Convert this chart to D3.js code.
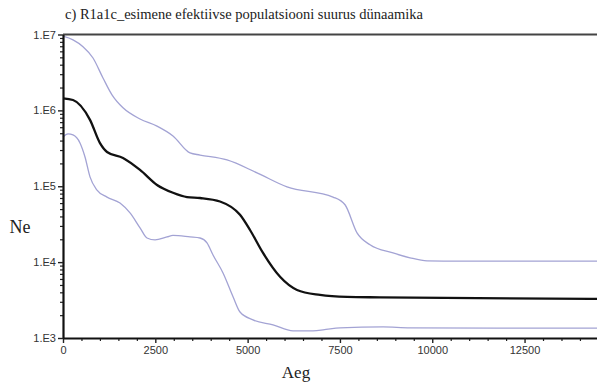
<!DOCTYPE html>
<html><head><meta charset="utf-8">
<script src="https://cdn.jsdelivr.net/npm/d3@7"></script>
<style>body{margin:0;background:#fff}svg{display:block}</style>
</head><body>
<script>
const titleText = "c) R1a1c_esimene efektiivse populatsiooni suurus  dünaamika";
const xLabel = "Aeg";
const yLabel = "Ne";
const xTicks = [0, 2500, 5000, 7500, 10000, 12500];
const yTicks = [1e3, 1e4, 1e5, 1e6, 1e7];
const yTickLabels = ["1.E3", "1.E4", "1.E5", "1.E6", "1.E7"];

// median Ne
const medianYears = [0, 271, 731, 1002, 1192, 1625, 2086, 2546, 2979, 3359, 3711, 4252, 4794, 5065, 5417, 5878, 6338, 6961, 7692, 8586, 14500];
const medianNe = [1.44e6, 1.37e6, 7.5e5, 3.7e5, 2.83e5, 2.36e5, 1.64e5, 1.04e5, 8.2e4, 7.2e4, 7.0e4, 6.3e4, 4.2e4, 2.65e4, 1.32e4, 6.4e3, 4.3e3, 3.7e3, 3.48e3, 3.43e3, 3.27e3];

// upper bound
const upperYears = [0, 271, 542, 813, 1083, 1327, 1625, 2086, 2546, 2979, 3440, 3711, 4442, 5255, 6067, 7313, 7638, 7963, 8315, 8938, 9399, 9859, 10753, 14500];
const upperNe = [9.5e6, 8.5e6, 6.9e6, 4.9e6, 2.67e6, 1.6e6, 1.08e6, 7.7e5, 6.2e5, 4.6e5, 2.75e5, 2.58e5, 2.22e5, 1.5e5, 9.8e4, 7.2e4, 5.7e4, 2.43e4, 1.69e4, 1.32e4, 1.14e4, 1.04e4, 1.03e4, 1.03e4];

// lower bound
const lowerYears = [0, 135, 271, 460, 596, 731, 921, 1192, 1544, 1815, 2086, 2275, 2492, 2817, 2979, 3440, 3711, 3900, 4063, 4334, 4605, 4794, 5146, 5688, 6230, 6609, 7042, 7503, 8667, 9399, 14500];
const lowerNe = [4.47e5, 4.89e5, 4.74e5, 3.72e5, 2.43e5, 1.33e5, 8.9e4, 7.2e4, 6.0e4, 4.45e4, 2.83e4, 2.08e4, 1.96e4, 2.15e4, 2.25e4, 2.15e4, 2.08e4, 1.79e4, 1.24e4, 7.2e3, 3.5e3, 2.2e3, 1.73e3, 1.49e3, 1.24e3, 1.24e3, 1.28e3, 1.36e3, 1.4e3, 1.36e3, 1.35e3];

const W = 597, H = 387;
const svg = d3.select("body").append("svg").attr("width", W).attr("height", H);

const x = d3.scaleLinear().domain([0, 14500]).range([63, 598.4]);
const y = d3.scaleLog().domain([1e3, 1e7]).range([338, 34.5]);

// title
svg.append("text").attr("x", 65).attr("y", 19)
  .attr("font-family", "'Liberation Serif', serif").attr("font-size", 14.5)
  .attr("fill", "#222").text(titleText);

// top frame line
svg.append("line").attr("x1", 63).attr("x2", W).attr("y1", y(1e7)).attr("y2", y(1e7))
  .attr("stroke", "#444").attr("stroke-width", 2.2);

const mk = (xs, vs) => xs.map((d, i) => [d, vs[i]]);
const line = d3.line().x(d => x(d[0])).y(d => y(d[1])).curve(d3.curveMonotoneX);

const g = svg.append("g");
g.append("path").datum(mk(upperYears, upperNe)).attr("d", line)
  .attr("fill", "none").attr("stroke", "#a3a3d4").attr("stroke-width", 1.3);
g.append("path").datum(mk(lowerYears, lowerNe)).attr("d", line)
  .attr("fill", "none").attr("stroke", "#a3a3d4").attr("stroke-width", 1.3);
g.append("path").datum(mk(medianYears, medianNe)).attr("d", line)
  .attr("fill", "none").attr("stroke", "#111").attr("stroke-width", 2.3);

// x axis minor ticks
const xMinor = d3.range(0, 14501, 500).filter(v => v % 2500 !== 0);
svg.append("g").attr("transform", `translate(0,${y(1e3)})`)
  .call(d3.axisBottom(x).tickValues(xMinor).tickSize(3).tickFormat(""))
  .call(a => a.select(".domain").remove())
  .call(a => a.selectAll("line").attr("stroke", "#222").attr("stroke-width", 1.2));
const xAx = svg.append("g").attr("transform", `translate(0,${y(1e3)})`)
  .call(d3.axisBottom(x).tickValues(xTicks).tickSize(5).tickSizeOuter(0).tickPadding(3).tickFormat(d3.format("d")));
xAx.select(".domain").attr("stroke", "#111").attr("stroke-width", 2.2);
xAx.selectAll("line").attr("stroke", "#222").attr("stroke-width", 1.4);
xAx.selectAll("text").attr("font-family", "Arial, 'Liberation Sans', sans-serif").attr("font-size", 11).attr("fill", "#333");

// y axis minor ticks
const yMinor = [];
for (let e = 3; e < 7; e++) for (let m = 2; m <= 9; m++) yMinor.push(m * Math.pow(10, e));
svg.append("g").attr("transform", `translate(63,0)`)
  .call(d3.axisLeft(y).tickValues(yMinor).tickSize(3).tickFormat(""))
  .call(a => a.select(".domain").remove())
  .call(a => a.selectAll("line").attr("stroke", "#222").attr("stroke-width", 1.2));
const yAx = svg.append("g").attr("transform", `translate(63,0)`)
  .call(d3.axisLeft(y).tickValues(yTicks).tickSize(5).tickSizeOuter(0).tickPadding(2)
    .tickFormat((d, i) => yTickLabels[i]));
yAx.select(".domain").attr("stroke", "#111").attr("stroke-width", 2.2);
yAx.selectAll("line").attr("stroke", "#222").attr("stroke-width", 1.4);
yAx.selectAll("text").attr("font-family", "Arial, 'Liberation Sans', sans-serif").attr("font-size", 11).attr("fill", "#333");

// axis titles
svg.append("text").attr("x", 296).attr("y", 378).attr("text-anchor", "middle")
  .attr("font-family", "'Liberation Serif', serif").attr("font-size", 17).attr("fill", "#222").text(xLabel);
svg.append("text").attr("x", 20).attr("y", 233).attr("text-anchor", "middle")
  .attr("font-family", "'Liberation Serif', serif").attr("font-size", 18).attr("fill", "#222").text(yLabel);
</script>
</body></html>
